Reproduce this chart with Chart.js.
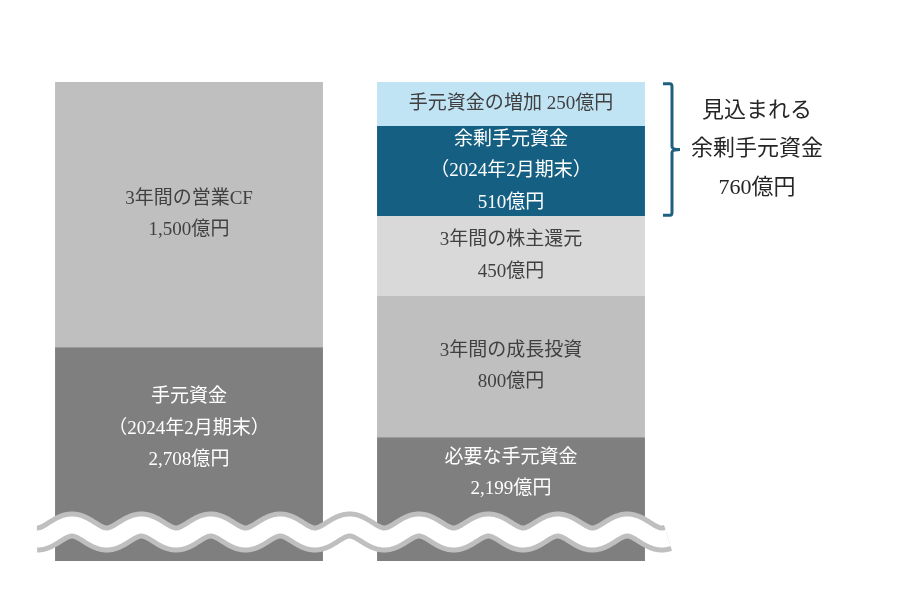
<!DOCTYPE html>
<html lang="ja">
<head>
<meta charset="UTF-8">
<title>手元資金の配分</title>
<script src="https://cdn.jsdelivr.net/npm/chart.js"></script>
<style>
  body { margin: 0; background: #fff; }
  .wrap { position: relative; width: 900px; height: 591px; }
</style>
</head>
<body>
<div class="wrap">
  <canvas id="cashChart" width="900" height="591"></canvas>
</div>
<script>
// 左：現在の手元資金＋営業CF、右：使い道
const categories = ['原資', '配分'];
const leftValues = [2708, 1500];
const rightValues = [2199, 800, 450, 510, 250];
const segColors = ['#7f7f7f', '#bfbfbf', '#d9d9d9', '#156082', '#c1e4f5'];
const textColors = ['#ffffff', '#404040', '#404040', '#ffffff', '#404040'];
const leftLabels = [['手元資金', '（2024年2月期末）'], ['3年間の営業CF']];
const rightLabels = [['必要な手元資金'], ['3年間の成長投資'], ['3年間の株主還元'], ['余剰手元資金', '（2024年2月期末）'], ['手元資金の増加']];
const braceLabels = ['見込まれる', '余剰手元資金', '760億円'];
const yMin = 1500;
const yMax = 4208;

const FONT = "'Liberation Serif', 'Noto Sans CJK JP', serif";

function fmt(v) {
  return v.toLocaleString('en-US') + '億円';
}

const datasets = rightValues.map((v, i) => ({
  data: [leftValues[i] ?? null, v],
  backgroundColor: segColors[i],
  borderWidth: 0,
  categoryPercentage: 1,
  barPercentage: 0.832
}));

// 棒の中の文字
const labelPlugin = {
  id: 'segLabels',
  afterDatasetsDraw(chart) {
    const ctx = chart.ctx;
    ctx.save();
    ctx.font = '19px ' + FONT;
    ctx.textAlign = 'center';
    ctx.textBaseline = 'middle';
    chart.data.datasets.forEach((ds, i) => {
      const meta = chart.getDatasetMeta(i);
      meta.data.forEach((bar, j) => {
        const v = ds.data[j];
        if (v == null) return;
        let lines = (j === 0 ? leftLabels[i] : rightLabels[i]).slice();
        if (i === 4) lines = [lines[0] + ' ' + fmt(v)];
        else lines.push(fmt(v));
        let top = bar.y, bottom = Math.min(bar.base, chart.chartArea.bottom);
        if (i === 0) bottom = 510; // 波線より上で中央
        const mid = (top + bottom) / 2;
        const lh = 31.5;
        ctx.fillStyle = textColors[i];
        lines.forEach((t, k) => {
          ctx.fillText(t, bar.x, mid + (k - (lines.length - 1) / 2) * lh);
        });
      });
    });
    ctx.restore();
  }
};

// 省略の波線と右の括弧
const decoPlugin = {
  id: 'deco',
  afterDraw(chart) {
    const ctx = chart.ctx;
    ctx.save();
    const path = () => {
      ctx.beginPath();
      for (let x = 37; x <= 668; x += 1) {
        const y = 532 - 7 * Math.cos(2 * Math.PI * (x - 72) / 69.4);
        if (x === 37) ctx.moveTo(x, y); else ctx.lineTo(x, y);
      }
    };
    ctx.lineCap = 'butt';
    ctx.lineJoin = 'round';
    path();
    ctx.strokeStyle = '#bfbfbf';
    ctx.lineWidth = 27;
    ctx.stroke();
    path();
    ctx.strokeStyle = '#ffffff';
    ctx.lineWidth = 17;
    ctx.stroke();

    // 括弧：余剰手元資金＋増加の範囲
    const meta3 = chart.getDatasetMeta(3).data[1];
    const meta4 = chart.getDatasetMeta(4).data[1];
    const top = meta4.y + 2, bottom = meta3.base - 1;
    const mid = (top + bottom) / 2;
    ctx.strokeStyle = '#1f5f80';
    ctx.lineWidth = 3;
    ctx.lineCap = 'butt';
    ctx.beginPath();
    ctx.moveTo(663, top);
    ctx.lineTo(670, top);
    ctx.quadraticCurveTo(672, top, 672, top + 3);
    ctx.lineTo(672, mid - 3);
    ctx.quadraticCurveTo(672, mid, 680, mid);
    ctx.moveTo(680, mid);
    ctx.quadraticCurveTo(672, mid, 672, mid + 3);
    ctx.lineTo(672, bottom - 3);
    ctx.quadraticCurveTo(672, bottom, 670, bottom);
    ctx.lineTo(663, bottom);
    ctx.stroke();

    ctx.font = '22px ' + FONT;
    ctx.fillStyle = '#262626';
    ctx.textAlign = 'center';
    ctx.textBaseline = 'middle';
    braceLabels.forEach((t, k) => ctx.fillText(t, 757, 111 + k * 38.5));
    ctx.restore();
  }
};

new Chart(document.getElementById('cashChart'), {
  type: 'bar',
  data: { labels: categories, datasets: datasets },
  options: {
    responsive: false,
    animation: false,
    layout: { padding: { top: 82, bottom: 30, left: 28, right: 228 } },
    plugins: { legend: { display: false }, tooltip: { enabled: false } },
    scales: {
      x: { stacked: true, display: false },
      y: { stacked: true, display: false, min: yMin, max: yMax }
    }
  },
  plugins: [labelPlugin, decoPlugin]
});
</script>
</body>
</html>
